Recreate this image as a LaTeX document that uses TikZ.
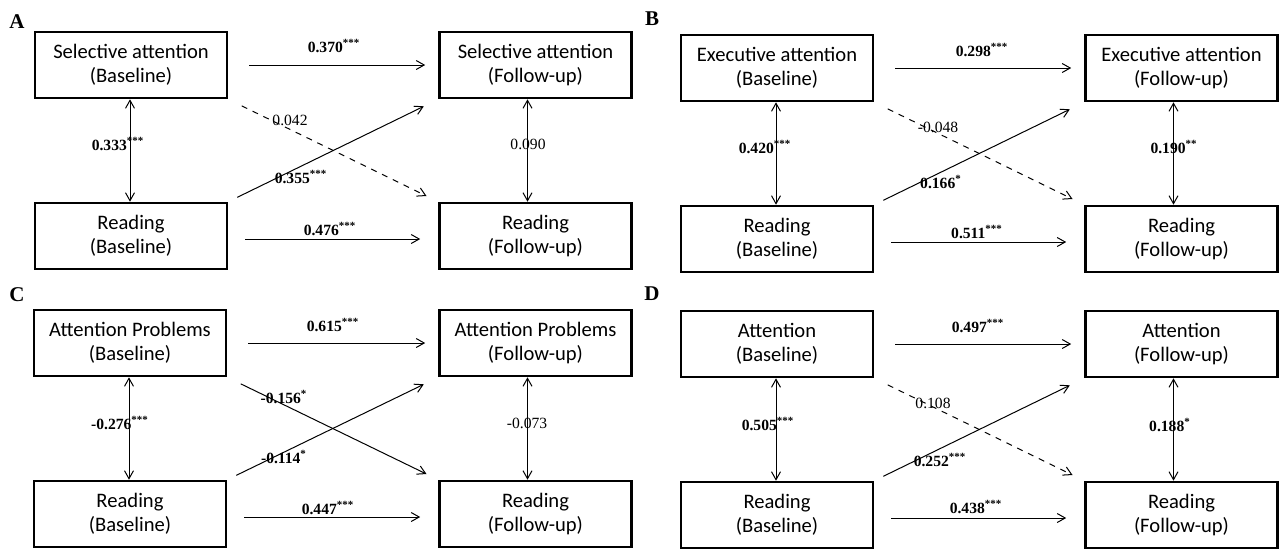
\documentclass[tikz,border=0pt]{standalone}
\usepackage{fontspec}
\setmainfont{Liberation Serif}
\newfontfamily\boxfont{Carlito}
\usetikzlibrary{arrows.meta}

\tikzset{
  varbox/.style={draw, line width=1.3pt, minimum width=96pt, minimum height=33pt, inner sep=0pt,
    align=center, font=\boxfont\fontsize{10.3}{12.2}\selectfont},
  coef/.style={inner sep=0pt, font=\fontsize{7.8}{9}\selectfont\bfseries},
  coefns/.style={inner sep=0pt, font=\fontsize{7.8}{9}\selectfont},
  panel/.style={inner sep=0pt, font=\fontsize{10.5}{12}\selectfont\bfseries},
  toparr/.style={->, shorten <=10.5pt, shorten >=6.5pt},
  botarr/.style={->, shorten <=8.5pt, shorten >=9pt},
  uparr/.style={->, shorten <=5pt, shorten >=8pt},
  downarr/.style={->, shorten <=7.5pt, shorten >=6.5pt}
}

\begin{document}
\begin{tikzpicture}[x=0.5pt, y=-0.5pt, line width=0.5pt,
    >={Straight Barb[length=4pt,width=4.5pt]}]
	\useasboundingbox (0,0) rectangle (1279,548);
	% panel letters
	\node[panel] (pA) at (17,22) {A};
	\node[panel] (pB) at (652,19) {B};
	\node[panel] (pC) at (17,295) {C};
	\node[panel] (pD) at (652,294) {D};

	% A: selective attention
	\begin{scope}
		\node[varbox] (selB) at (131,65) {Selective attention\\(Baseline)};
		\node[varbox] (selF) at (535.5,65) {Selective attention\\(Follow-up)};
		\node[varbox] (readAB) at (131,236) {Reading\\(Baseline)};
		\node[varbox] (readAF) at (535.5,236) {Reading\\(Follow-up)};
		\draw[toparr] (selB) -- (selF);
		\draw[botarr] ([yshift=-1.5pt]readAB.east) -- ([yshift=-1.5pt]readAF.west);
		\draw[<->] ([xshift=-0.5pt]selB.south) -- ([xshift=-0.5pt]readAB.north);
		\draw[<->] ([xshift=-4pt]selF.south) -- ([xshift=-4pt]readAF.north);
		\draw[downarr, dashed] (selB.south east) -- (readAF.north west);
		\draw[uparr] (readAB.north east) -- (selF.south west);
		\node[coef] (cA1) at (334,46) {0.370\textsuperscript{***}};
		\node[coef] (cA2) at (330,229) {0.476\textsuperscript{***}};
		\node[coef] (cA3) at (118,144) {0.333\textsuperscript{***}};
		\node[coefns] (cA4) at (528,144) {0.090};
		\node[coefns] (cA5) at (290,120) {0.042};
		\node[coef] (cA6) at (301,177) {0.355\textsuperscript{***}};
	\end{scope}

	% B: executive attention
	\begin{scope}[shift={(646,3)}]
		\node[varbox] (exeB) at (131,65) {Executive attention\\(Baseline)};
		\node[varbox] (exeF) at (535.5,65) {Executive attention\\(Follow-up)};
		\node[varbox] (readBB) at (131,236) {Reading\\(Baseline)};
		\node[varbox] (readBF) at (535.5,236) {Reading\\(Follow-up)};
		\draw[toparr] (exeB) -- (exeF);
		\draw[botarr] ([yshift=-1.5pt]readBB.east) -- ([yshift=-1.5pt]readBF.west);
		\draw[<->] ([xshift=-0.5pt]exeB.south) -- ([xshift=-0.5pt]readBB.north);
		\draw[<->] ([xshift=-4pt]exeF.south) -- ([xshift=-4pt]readBF.north);
		\draw[downarr, dashed] (exeB.south east) -- (readBF.north west);
		\draw[uparr] (readBB.north east) -- (exeF.south west);
		\node[coef] (cB1) at (336,47) {0.298\textsuperscript{***}};
		\node[coef] (cB2) at (331,229) {0.511\textsuperscript{***}};
		\node[coef] (cB3) at (119,144) {0.420\textsuperscript{***}};
		\node[coef] (cB4) at (528,144) {0.190\textsuperscript{**}};
		\node[coefns] (cB5) at (292,124) {-0.048};
		\node[coef] (cB6) at (295,179) {0.166\textsuperscript{*}};
	\end{scope}

	% C: attention problems
	\begin{scope}[shift={(0,278)}]
		\node[varbox] (probB) at (130,65) {Attention Problems\\(Baseline)};
		\node[varbox] (probF) at (535.5,65) {Attention Problems\\(Follow-up)};
		\node[varbox] (readCB) at (130,236) {Reading\\(Baseline)};
		\node[varbox] (readCF) at (535.5,236) {Reading\\(Follow-up)};
		\draw[toparr] (probB) -- (probF);
		\draw[botarr] ([yshift=-1.5pt]readCB.east) -- ([yshift=-1.5pt]readCF.west);
		\draw[<->] ([xshift=-0.5pt]probB.south) -- ([xshift=-0.5pt]readCB.north);
		\draw[<->] ([xshift=-4pt]probF.south) -- ([xshift=-4pt]readCF.north);
		\draw[downarr] (probB.south east) -- (readCF.north west);
		\draw[uparr] (readCB.north east) -- (probF.south west);
		\node[coef] (cC1) at (333,47) {0.615\textsuperscript{***}};
		\node[coef] (cC2) at (328,230) {0.447\textsuperscript{***}};
		\node[coef] (cC3) at (120,145) {-0.276\textsuperscript{***}};
		\node[coefns] (cC4) at (527,145) {-0.073};
		\node[coef] (cC5) at (284,119) {-0.156\textsuperscript{*}};
		\node[coef] (cC6) at (284,179) {-0.114\textsuperscript{*}};
	\end{scope}

	% D: attention
	\begin{scope}[shift={(646,279)}]
		\node[varbox] (attB) at (131,65) {Attention\\(Baseline)};
		\node[varbox] (attF) at (535.5,65) {Attention\\(Follow-up)};
		\node[varbox] (readDB) at (131,236) {Reading\\(Baseline)};
		\node[varbox] (readDF) at (535.5,236) {Reading\\(Follow-up)};
		\draw[toparr] (attB) -- (attF);
		\draw[botarr] ([yshift=-1.5pt]readDB.east) -- ([yshift=-1.5pt]readDF.west);
		\draw[<->] ([xshift=-0.5pt]attB.south) -- ([xshift=-0.5pt]readDB.north);
		\draw[<->] ([xshift=-4pt]attF.south) -- ([xshift=-4pt]readDF.north);
		\draw[downarr, dashed] (attB.south east) -- (readDF.north west);
		\draw[uparr] (readDB.north east) -- (attF.south west);
		\node[coef] (cD1) at (332,47) {0.497\textsuperscript{***}};
		\node[coef] (cD2) at (330,228) {0.438\textsuperscript{***}};
		\node[coef] (cD3) at (122,145) {0.505\textsuperscript{***}};
		\node[coef] (cD4) at (524,146) {0.188\textsuperscript{*}};
		\node[coefns] (cD5) at (287,124) {0.108};
		\node[coef] (cD6) at (294,181) {0.252\textsuperscript{***}};
	\end{scope}
\end{tikzpicture}
\end{document}
